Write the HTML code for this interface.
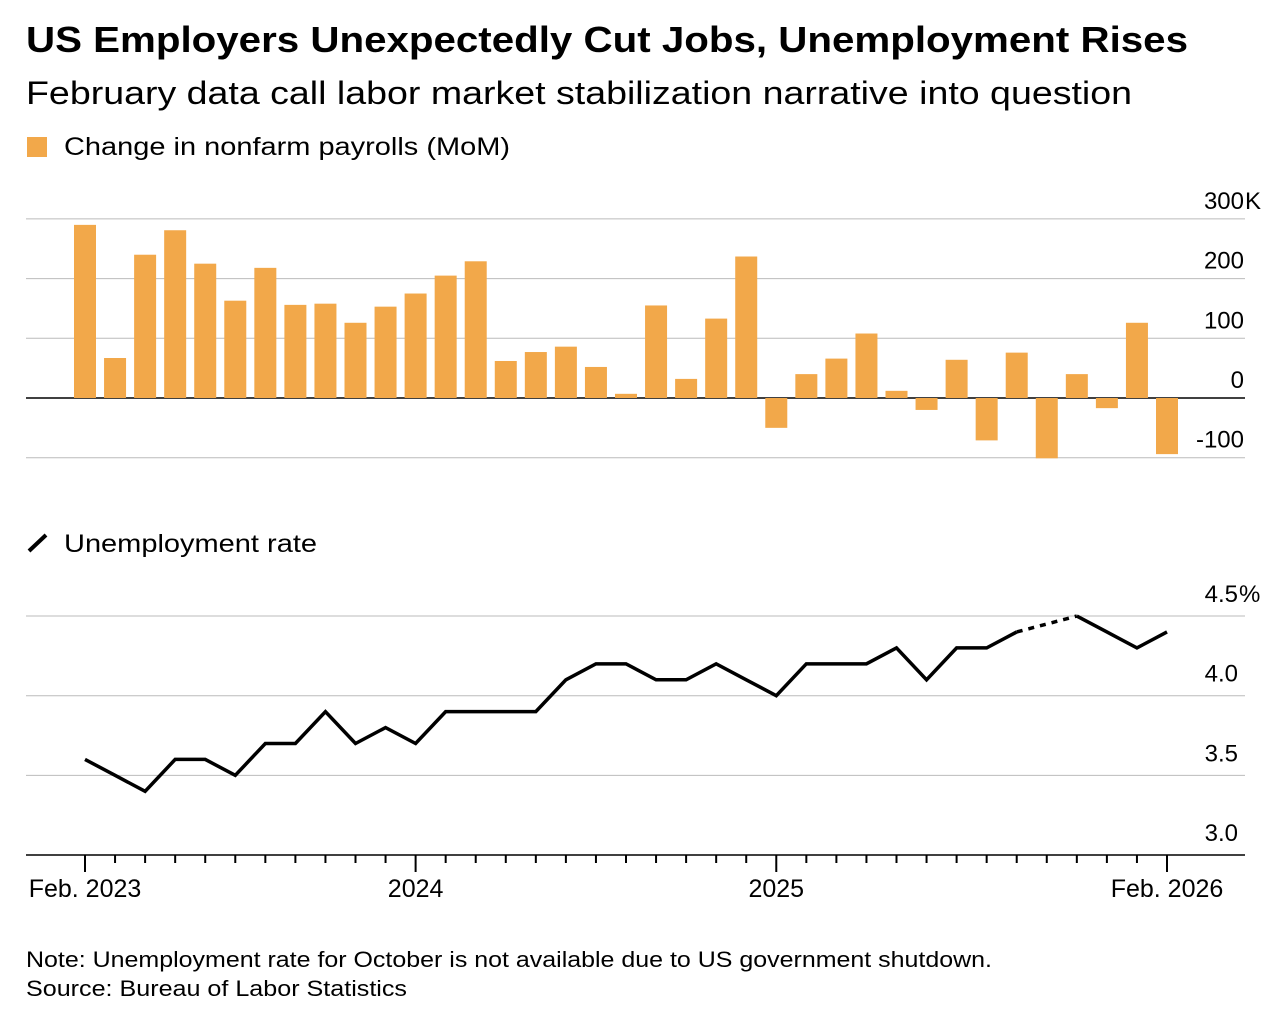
<!DOCTYPE html>
<html><head><meta charset="utf-8"><style>
body{margin:0;background:#fff;font-family:"Liberation Sans",Arial,sans-serif;color:#000;}
svg text{font-family:"Liberation Sans",Arial,sans-serif;}
</style></head><body>
<svg id="c" width="1280" height="1020">
<text x="26" y="52" font-size="36" font-weight="bold" textLength="1162" lengthAdjust="spacingAndGlyphs">US Employers Unexpectedly Cut Jobs, Unemployment Rises</text>
<text x="26" y="104" font-size="32" textLength="1106" lengthAdjust="spacingAndGlyphs">February data call labor market stabilization narrative into question</text>
<rect x="27" y="137" width="20" height="20" fill="#f2a84a"/>
<text x="64" y="155" font-size="25" textLength="446" lengthAdjust="spacingAndGlyphs">Change in nonfarm payrolls (MoM)</text>
<line x1="29" y1="551" x2="46" y2="535" stroke="#000" stroke-width="4"/>
<text x="64" y="552" font-size="25" textLength="253" lengthAdjust="spacingAndGlyphs">Unemployment rate</text>
<text x="26" y="967" font-size="22" textLength="966" lengthAdjust="spacingAndGlyphs">Note: Unemployment rate for October is not available due to US government shutdown.</text>
<text x="26" y="996" font-size="22" textLength="381" lengthAdjust="spacingAndGlyphs">Source: Bureau of Labor Statistics</text>
<g id="g"></g>
</svg>
<script>
const payrolls=[290,67,240,281,225,163,218,156,158,126,153,175,205,229,62,77,86,52,7,155,32,133,237,-50,40,66,108,12,-20,64,-71,76,-101,40,-17,126,-94];
const unemp=[3.6,3.5,3.4,3.6,3.6,3.5,3.7,3.7,3.9,3.7,3.8,3.7,3.9,3.9,3.9,3.9,4.1,4.2,4.2,4.1,4.1,4.2,4.1,4.0,4.2,4.2,4.2,4.3,4.1,4.3,4.3,4.4,null,4.5,4.4,4.3,4.4];
const barTicks=[300,200,100,0,-100];
const barTickLabels=["300","200","100","0","-100"];
const rateTicks=[4.5,4.0,3.5,3.0];
const rateTickLabels=["4.5","4.0","3.5","3.0"];
const xLabels=[[0,"Feb. 2023"],[11,"2024"],[23,"2025"],[36,"Feb. 2026"]];
const NS="http://www.w3.org/2000/svg";
const g=document.getElementById('g');
function mk(t,a){const e=document.createElementNS(NS,t);for(const k in a)e.setAttribute(k,a[k]);g.appendChild(e);return e;}
const x=i=>85+i*(1167-85)/36;
const yb=v=>398-v*0.597;
const yr=v=>855-(v-3)*159.3;
barTicks.forEach((t,i)=>{
 const l=mk('line',{x1:26,x2:1245,y1:yb(t),y2:yb(t),stroke:t===0?'#000':'#bbb','stroke-width':t===0?1.5:1});
 
 const tx=mk('text',{x:1244,y:yb(t)-10,'font-size':24,'text-anchor':'end'});tx.textContent=barTickLabels[i];
 
 if(i===0){const u=mk('text',{x:1245,y:yb(t)-10,'font-size':24});u.textContent='K';
 }
});
payrolls.forEach((v,i)=>{
 const r=mk('rect',{x:x(i)-11,width:22,y:Math.min(yb(v),yb(0)),height:Math.abs(yb(v)-yb(0)),fill:'#f2a84a'});
 
});
rateTicks.forEach((t,i)=>{
 const l=mk('line',{x1:26,x2:1245,y1:yr(t),y2:yr(t),stroke:t===3?'#000':'#bbb','stroke-width':t===3?1.5:1});
 
 const tx=mk('text',{x:1238,y:yr(t)-14,'font-size':24,'text-anchor':'end'});tx.textContent=rateTickLabels[i];
 
 if(i===0){const u=mk('text',{x:1239,y:yr(t)-14,'font-size':24});u.textContent='%';
 }
});
let segs=[],cur=[];
unemp.forEach((v,i)=>{if(v==null){segs.push(cur);cur=[];}else cur.push([x(i),yr(v)]);});segs.push(cur);
segs.forEach(s=>{const p=mk('polyline',{points:s.map(q=>q.join(',')).join(' '),fill:'none',stroke:'#000','stroke-width':3.5,'stroke-linejoin':'miter'});
 });
const a=segs[0][segs[0].length-1],b=segs[1][0];
const d=mk('line',{x1:a[0],y1:a[1],x2:b[0],y2:b[1],stroke:'#000','stroke-width':3.5,'stroke-dasharray':'6,6'});

const majors=xLabels.map(q=>q[0]);
for(let i=0;i<37;i++){const m=majors.includes(i);
 const t=mk('line',{x1:x(i),x2:x(i),y1:855,y2:m?872:863,stroke:'#000','stroke-width':2});
 }
xLabels.forEach(q=>{const t=mk('text',{x:x(q[0]),y:897,'font-size':25,'text-anchor':'middle'});t.textContent=q[1];
 });
</script>
</body></html>
